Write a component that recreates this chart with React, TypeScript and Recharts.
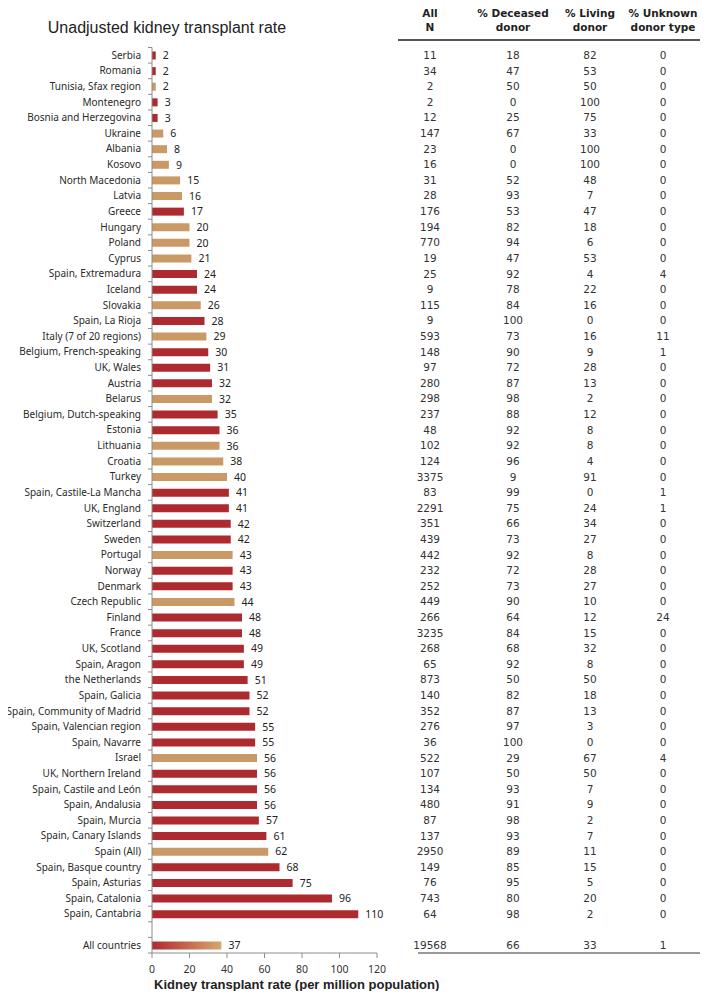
import React from "react";
import { BarChart, Bar, XAxis, YAxis, Cell, LabelList } from "recharts";

// rows top to bottom; "" is the spacer row before the total
const countries = [
  "Serbia", "Romania", "Tunisia, Sfax region", "Montenegro", "Bosnia and Herzegovina",
  "Ukraine", "Albania", "Kosovo", "North Macedonia", "Latvia",
  "Greece", "Hungary", "Poland", "Cyprus", "Spain, Extremadura",
  "Iceland", "Slovakia", "Spain, La Rioja", "Italy (7 of 20 regions)", "Belgium, French-speaking",
  "UK, Wales", "Austria", "Belarus", "Belgium, Dutch-speaking", "Estonia",
  "Lithuania", "Croatia", "Turkey", "Spain, Castile-La Mancha", "UK, England",
  "Switzerland", "Sweden", "Portugal", "Norway", "Denmark",
  "Czech Republic", "Finland", "France", "UK, Scotland", "Spain, Aragon",
  "the Netherlands", "Spain, Galicia", "Spain, Community of Madrid", "Spain, Valencian region", "Spain, Navarre",
  "Israel", "UK, Northern Ireland", "Spain, Castile and León", "Spain, Andalusia", "Spain, Murcia",
  "Spain, Canary Islands", "Spain (All)", "Spain, Basque country", "Spain, Asturias", "Spain, Catalonia",
  "Spain, Cantabria", "", "All countries",
];

const rates = [
  2, 2, 2, 3, 3, 6, 8, 9, 15, 16,
  17, 20, 20, 21, 24, 24, 26, 28, 29, 30,
  31, 32, 32, 35, 36, 36, 38, 40, 41, 41,
  42, 42, 43, 43, 43, 44, 48, 48, 49, 49,
  51, 52, 52, 55, 55, 56, 56, 56, 56, 57,
  61, 62, 68, 75, 96, 110, null, 37,
];

// I = individual patient data, A = aggregated data, T = total
const source = [
  "I", "I", "A", "I", "I", "A", "A", "A", "A", "A",
  "I", "A", "A", "A", "I", "I", "A", "I", "A", "I",
  "I", "I", "A", "I", "I", "A", "A", "A", "I", "I",
  "I", "I", "A", "I", "I", "A", "I", "I", "I", "I",
  "I", "I", "I", "I", "I", "A", "I", "I", "I", "I",
  "I", "A", "I", "I", "I", "I", "", "T",
];

const totalN = [
  11, 34, 2, 2, 12, 147, 23, 16, 31, 28,
  176, 194, 770, 19, 25, 9, 115, 9, 593, 148,
  97, 280, 298, 237, 48, 102, 124, 3375, 83, 2291,
  351, 439, 442, 232, 252, 449, 266, 3235, 268, 65,
  873, 140, 352, 276, 36, 522, 107, 134, 480, 87,
  137, 2950, 149, 76, 743, 64, null, 19568,
];

const pctDeceased = [
  18, 47, 50, 0, 25, 67, 0, 0, 52, 93,
  53, 82, 94, 47, 92, 78, 84, 100, 73, 90,
  72, 87, 98, 88, 92, 92, 96, 9, 99, 75,
  66, 73, 92, 72, 73, 90, 64, 84, 68, 92,
  50, 82, 87, 97, 100, 29, 50, 93, 91, 98,
  93, 89, 85, 95, 80, 98, null, 66,
];

const pctLiving = [
  82, 53, 50, 100, 75, 33, 100, 100, 48, 7,
  47, 18, 6, 53, 4, 22, 16, 0, 16, 9,
  28, 13, 2, 12, 8, 8, 4, 91, 0, 24,
  34, 27, 8, 28, 27, 10, 12, 15, 32, 8,
  50, 18, 13, 3, 0, 67, 50, 7, 9, 2,
  7, 11, 15, 5, 20, 2, null, 33,
];

const pctUnknown = [
  0, 0, 0, 0, 0, 0, 0, 0, 0, 0,
  0, 0, 0, 0, 4, 0, 0, 0, 11, 1,
  0, 0, 0, 0, 0, 0, 0, 0, 1, 1,
  0, 0, 0, 0, 0, 0, 24, 0, 0, 0,
  0, 0, 0, 0, 0, 4, 0, 0, 0, 0,
  0, 0, 0, 0, 0, 0, null, 1,
];

const xTicks = [0, 20, 40, 60, 80, 100, 120];

const tableHeaders = [
  ["All", "N"],
  ["% Deceased", "donor"],
  ["% Living", "donor"],
  ["% Unknown", "donor type"],
];

const data = countries.map((name, i) => ({
  name: name || " ",
  rate: rates[i],
  source: source[i],
}));

const RED = "#ad2a2f";
const TAN = "#c99a66";
const W = 708;
const H = 999;
const TOP = 47.5;
const BOTTOM = 46;
const ROW_H = (H - TOP - BOTTOM) / countries.length;
const colX = [53, 136, 213, 286];
const labelFont = "'Noto Sans', sans-serif";
const tableFont = "'DejaVu Sans', sans-serif";

function CategoryTick(props: any) {
  const { x, y, payload } = props;
  const i = payload?.index ?? props.index;
  const ax = x + 11;
  return (
    <g>
      <line x1={ax - 4} x2={ax} y1={y - ROW_H / 2} y2={y - ROW_H / 2} stroke="#8c8c8c" />
      {i === countries.length - 1 && (
        <line x1={ax - 4} x2={ax} y1={y + ROW_H / 2} y2={y + ROW_H / 2} stroke="#8c8c8c" />
      )}
      <text x={x} y={y} dy="0.35em" textAnchor="end" fontSize={10} fontFamily={labelFont} fill="#2a2a2a">
        {payload.value}
      </text>
    </g>
  );
}

function TableTick(props: any) {
  const { x, y, payload } = props;
  const i = payload?.index ?? props.index;
  if (totalN[i] == null) return <g />;
  const vals = [totalN[i], pctDeceased[i], pctLiving[i], pctUnknown[i]];
  return (
    <g>
      {vals.map((v, k) => (
        <text key={k} x={x + colX[k]} y={y} dy="0.35em" textAnchor="middle" fontSize={10.5} fontFamily={tableFont} fill="#333">
          {v}
        </text>
      ))}
    </g>
  );
}

export default function App() {
  return (
    <div style={{ position: "relative", width: W, height: H, margin: -8, background: "#fff" }}>
      <div
        style={{
          position: "absolute", left: 0, width: 334, top: 19, textAlign: "center",
          fontFamily: "'Liberation Sans', Arial, sans-serif", fontSize: 16, color: "#222",
        }}
      >
        Unadjusted kidney transplant rate
      </div>
      <div style={{ position: "absolute", left: 398, width: 310, top: 2, height: 2, background: "#555" }} />
      <div style={{ position: "absolute", left: 398, width: 310, top: 39, height: 2, background: "#555" }} />
      <div style={{ position: "absolute", left: 418, width: 288, top: 952, height: 2, background: "#9a9a9a" }} />
      {tableHeaders.map((h, k) => (
        <div
          key={k}
          style={{
            position: "absolute", left: 377 + colX[k] - 40, width: 80, top: 6, textAlign: "center",
            fontFamily: tableFont, fontWeight: "bold", fontSize: 10.5, lineHeight: "14px", color: "#222",
          }}
        >
          {h[0]}
          <br />
          {h[1]}
        </div>
      ))}
      <BarChart
        width={W}
        height={H}
        data={data}
        layout="vertical"
        margin={{ top: TOP, right: 0, bottom: 0, left: 0 }}
      >
        <defs>
          <linearGradient id="allGrad" x1="0" y1="0" x2="1" y2="0">
            <stop offset="0%" stopColor="#b3292f" />
            <stop offset="100%" stopColor="#d6a66c" />
          </linearGradient>
        </defs>
        <XAxis
          type="number"
          domain={[0, 120]}
          ticks={xTicks}
          xAxisId="x"
          height={BOTTOM}
          stroke="#8c8c8c"
          tickSize={5}
          tickMargin={8}
          tick={{ fontSize: 10.5, fontFamily: labelFont, fill: "#333" }}
          label={({ viewBox }: any) => (
            <text
              x={viewBox.x + 2}
              y={H - 10}
              fontSize={13}
              fontWeight="bold"
              fontFamily="'Liberation Sans', Arial, sans-serif"
              fill="#222"
            >
              Kidney transplant rate (per million population)
            </text>
          )}
        />
        <YAxis
          type="category"
          dataKey="name"
          yAxisId="cat"
          width={152}
          stroke="#8c8c8c"
          tickLine={false}
          tickSize={0}
          tickMargin={11}
          interval={0}
          tick={<CategoryTick />}
        />
        <YAxis
          type="category"
          dataKey="name"
          yAxisId="table"
          orientation="right"
          width={331}
          axisLine={false}
          tickLine={false}
          tickSize={0}
          tickMargin={0}
          interval={0}
          tick={<TableTick />}
        />
        <Bar dataKey="rate" xAxisId="x" yAxisId="cat" barSize={8} isAnimationActive={false}>
          {data.map((d, i) => (
            <Cell key={i} fill={d.source === "T" ? "url(#allGrad)" : d.source === "A" ? TAN : RED} />
          ))}
          <LabelList
            dataKey="rate"
            position="right"
            offset={7}
            style={{ fontSize: 10.5, fontFamily: labelFont, fill: "#222" }}
          />
        </Bar>
      </BarChart>
    </div>
  );
}
